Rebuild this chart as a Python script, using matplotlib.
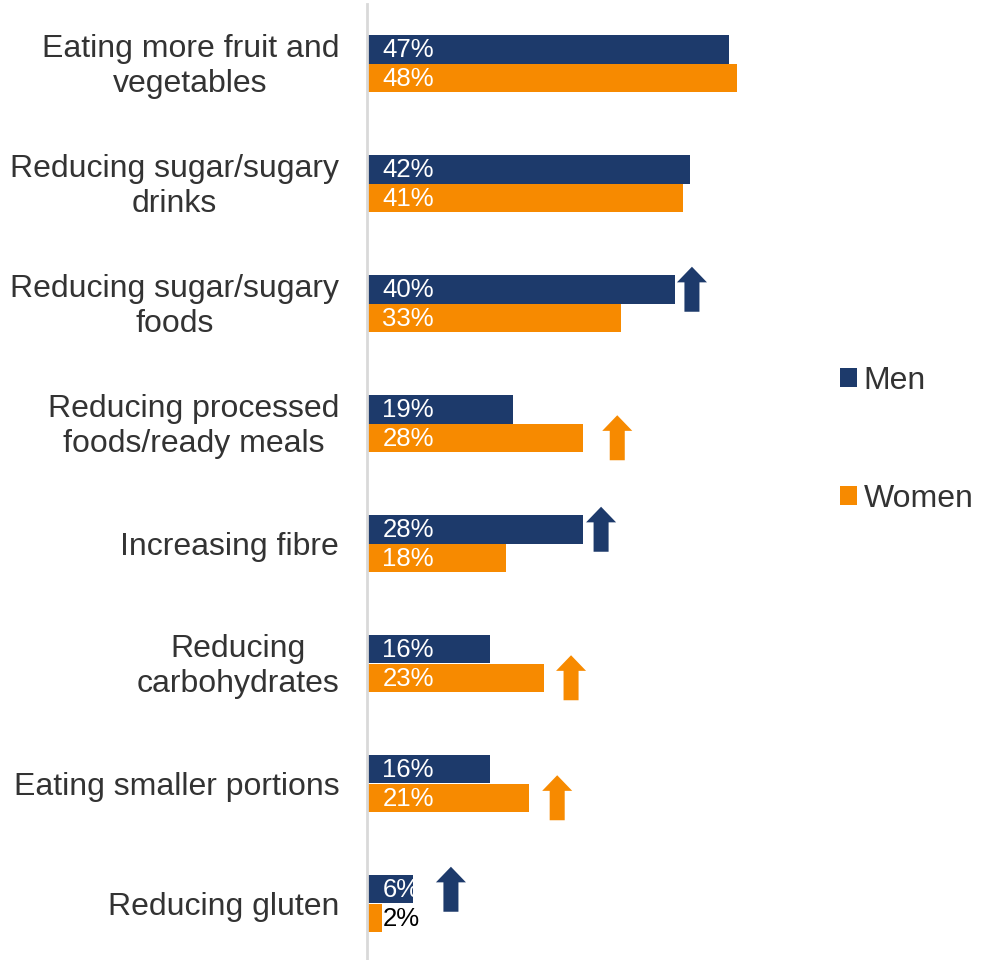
import matplotlib
matplotlib.use("Agg")
import matplotlib.pyplot as plt
from matplotlib.patches import Polygon, Patch
from matplotlib.transforms import ScaledTranslation

plt.rcParams['font.family'] = ['Liberation Sans', 'DejaVu Sans']

categories = [
    "Eating more fruit and\nvegetables",
    "Reducing sugar/sugary\ndrinks",
    "Reducing sugar/sugary\nfoods",
    "Reducing processed\nfoods/ready meals",
    "Increasing fibre",
    "Reducing\ncarbohydrates",
    "Eating smaller portions",
    "Reducing gluten",
]
men = [47, 42, 40, 19, 28, 16, 16, 6]
women = [48, 41, 33, 28, 18, 23, 21, 2]

# significant-difference arrows: (category index, series, x position in %)
arrows = [
    (2, "Men", 42.2),
    (3, "Women", 32.5),
    (4, "Men", 30.4),
    (5, "Women", 26.5),
    (6, "Women", 24.7),
    (7, "Men", 10.9),
]

NAVY = "#1D3A6B"
ORANGE = "#F78A00"
TEXT = "#333333"

fig = plt.figure(figsize=(9.81, 9.60), dpi=100)
ax = fig.add_axes([367 / 981, -3.5 / 960, 462 / 981, 960 / 960])

bh = 0.2375
ys = list(range(len(categories)))
y_men = [y - bh / 2 for y in ys]
y_women = [y + bh / 2 for y in ys]

ax.barh(y_men, men, height=bh, color=NAVY, label="Men")
ax.barh(y_women, women, height=bh, color=ORANGE, label="Women")

for ym, yw, m, w in zip(y_men, y_women, men, women):
    ax.text(2.0, ym + 0.01, f"{m}%", color="white", fontsize=18.5, va="center", ha="left")
    ax.text(2.0, yw + 0.01, f"{w}%", color="white" if w >= 5 else "black",
            fontsize=18.5, va="center", ha="left")

# up-arrow markers
shaft_w, head_w = 1.95, 3.9
arrow_h, head_h = 0.375, 0.13
for idx, series, xc in arrows:
    yc = y_men[idx] if series == "Men" else y_women[idx]
    col = NAVY if series == "Men" else ORANGE
    top = yc - arrow_h / 2
    bot = yc + arrow_h / 2
    neck = top + head_h
    verts = [
        (xc - shaft_w / 2, bot), (xc - shaft_w / 2, neck), (xc - head_w / 2, neck),
        (xc, top), (xc + head_w / 2, neck), (xc + shaft_w / 2, neck),
        (xc + shaft_w / 2, bot),
    ]
    ax.add_patch(Polygon(verts, closed=True, facecolor=col, edgecolor="none"))

ax.set_xlim(0, 60)
ax.set_ylim(len(categories) - 0.5, -0.5)
ax.set_yticks(ys)
ax.set_yticklabels(categories, fontsize=23, color=TEXT, linespacing=1.22,
                   multialignment="center")
ax.tick_params(axis="y", length=0, pad=20)
# two-line labels sit a touch higher
for lbl in ax.get_yticklabels():
    if "\n" in lbl.get_text():
        lbl.set_transform(lbl.get_transform() + ScaledTranslation(0, 3.5 / 100, fig.dpi_scale_trans))
ax.set_xticks([])
for s in ["top", "right", "bottom"]:
    ax.spines[s].set_visible(False)
ax.spines["left"].set_color("#D9D9D9")
ax.spines["left"].set_linewidth(2)
ax.patch.set_visible(False)

handles = [Patch(facecolor=NAVY, label="Men"), Patch(facecolor=ORANGE, label="Women")]
fig.legend(handles=handles, loc="upper left", bbox_to_anchor=(827 / 981, 1 - 353 / 960),
           frameon=False, fontsize=23, handlelength=0.55, handleheight=0.55,
           handletextpad=0.2, labelspacing=2.75, labelcolor=TEXT, borderaxespad=0)

fig.savefig("out.png", dpi=100)
